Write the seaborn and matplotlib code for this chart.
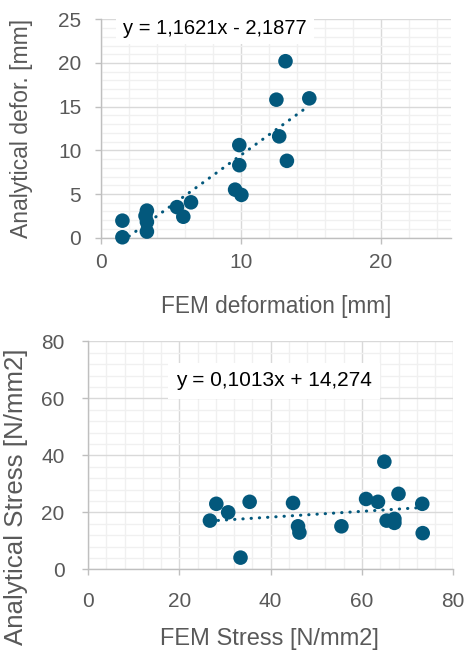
import matplotlib
matplotlib.use("Agg")
import matplotlib.pyplot as plt
import seaborn as sns
import numpy as np
import pandas as pd
from matplotlib.ticker import MultipleLocator

# ---- data ----
fem_def = [1.55, 1.55, 3.3, 3.2, 3.3, 3.3, 5.45, 5.9, 6.45, 9.6, 10.05, 9.9, 9.9, 12.55, 13.2, 12.75, 13.3, 14.9]
ana_def = [1.95, 0.05, 3.1, 2.5, 1.8, 0.7, 3.5, 2.4, 4.05, 5.5, 4.9, 8.3, 10.6, 15.8, 20.2, 11.6, 8.8, 15.95]
def_slope, def_intercept = 1.1621, -2.1877
def_eq = "y = 1,1621x - 2,1877"

fem_stress = [26.7, 28.1, 30.7, 33.4, 35.4, 44.9, 46.0, 46.3, 55.5, 60.9, 63.5, 64.9, 65.4, 67.1, 67.1, 68.0, 73.2, 73.3]
ana_stress = [17.1, 23.0, 20.0, 4.1, 23.7, 23.3, 15.1, 12.9, 15.1, 24.7, 23.7, 37.8, 17.1, 17.7, 16.3, 26.5, 23.0, 12.7]
str_slope, str_intercept = 0.1013, 14.274
str_eq = "y = 0,1013x + 14,274"

def_xticks = [0, 10, 20]
def_yticks = [0, 5, 10, 15, 20, 25]
str_xticks = [0, 20, 40, 60, 80]
str_yticks = [0, 20, 40, 60, 80]

sns.set_theme(style="white")
plt.rcParams['font.family'] = ['Liberation Sans', 'DejaVu Sans']

COL = '#03587C'
GREY = '#595959'
MAJ = '#D9D9D9'
MIN = '#F0F0F0'

fig = plt.figure(figsize=(4.69, 6.52), dpi=100)
ax1 = fig.add_axes([100.7/469, 1-237.7/652, 350/469, 218.4/652])
ax2 = fig.add_axes([88/469, 1-569.3/652, 365.3/469, 227.8/652])

def style(ax, xmax, ymax, xmin, ymin, xticks, yticks, xpad, ypad):
    ax.set_xlim(0, xmax)
    ax.set_ylim(0, ymax)
    ax.set_xticks(xticks)
    ax.set_yticks(yticks)
    ax.xaxis.set_minor_locator(MultipleLocator(xmin))
    ax.yaxis.set_minor_locator(MultipleLocator(ymin))
    ax.grid(which='major', color=MAJ, lw=1.0, zorder=0)
    ax.grid(which='minor', color=MIN, lw=1.0, zorder=0)
    ax.set_axisbelow(True)
    for s in ['top', 'right']:
        ax.spines[s].set_visible(False)
    for s in ['left', 'bottom']:
        ax.spines[s].set_color('#BFBFBF')
        ax.spines[s].set_linewidth(1.0)
    ax.tick_params(which='major', direction='out', length=4, width=1, color='#BFBFBF',
                   labelsize=15, labelcolor=GREY, bottom=True, left=True)
    ax.tick_params(which='minor', length=0)
    ax.tick_params(axis='x', pad=xpad)
    ax.tick_params(axis='y', pad=ypad)

style(ax1, 25, 25, 2, 1, def_xticks, def_yticks, 7, 10)
style(ax2, 80, 80, 4, 4, str_xticks, str_yticks, 12, 13)

df1 = pd.DataFrame({'x': fem_def, 'y': ana_def})
df2 = pd.DataFrame({'x': fem_stress, 'y': ana_stress})

for ax, df, m, b in [(ax1, df1, def_slope, def_intercept), (ax2, df2, str_slope, str_intercept)]:
    xs = np.array([df.x.min(), df.x.max()])
    tl = pd.DataFrame({'x': xs, 'y': m*xs + b})
    sns.lineplot(data=tl, x='x', y='y', ax=ax, color=COL, lw=2.2,
                 linestyle=(0, (0.1, 2.6)), dash_capstyle='round', zorder=2)
    sns.scatterplot(data=df, x='x', y='y', ax=ax, color=COL, s=110,
                    edgecolor='none', linewidth=0, zorder=3, clip_on=False)

ax1.set_xlabel("FEM deformation [mm]", fontsize=16.3, color=GREY)
ax1.set_ylabel("Analytical defor. [mm]", fontsize=16.5, color=GREY)
ax2.set_xlabel("FEM Stress [N/mm2]", fontsize=17, color=GREY)
ax2.set_ylabel("Analytical Stress [N/mm2]", fontsize=18.6, color=GREY)
ax1.xaxis.set_label_coords(0.50, -0.262)
ax2.xaxis.set_label_coords(0.498, -0.258)
ax1.yaxis.set_label_coords(-0.193, 0.5)
ax2.yaxis.set_label_coords(-0.164, 0.32)

ax1.text(0.327, 0.96, def_eq, transform=ax1.transAxes, ha='center', va='center',
         fontsize=14.5, color='black', zorder=4,
         bbox=dict(facecolor='white', edgecolor='none', pad=5))
ax2.text(0.509, 0.827, str_eq, transform=ax2.transAxes, ha='center', va='center',
         fontsize=15, color='black', zorder=4,
         bbox=dict(facecolor='white', edgecolor='none', pad=6))

fig.savefig('out.png', dpi=100)
